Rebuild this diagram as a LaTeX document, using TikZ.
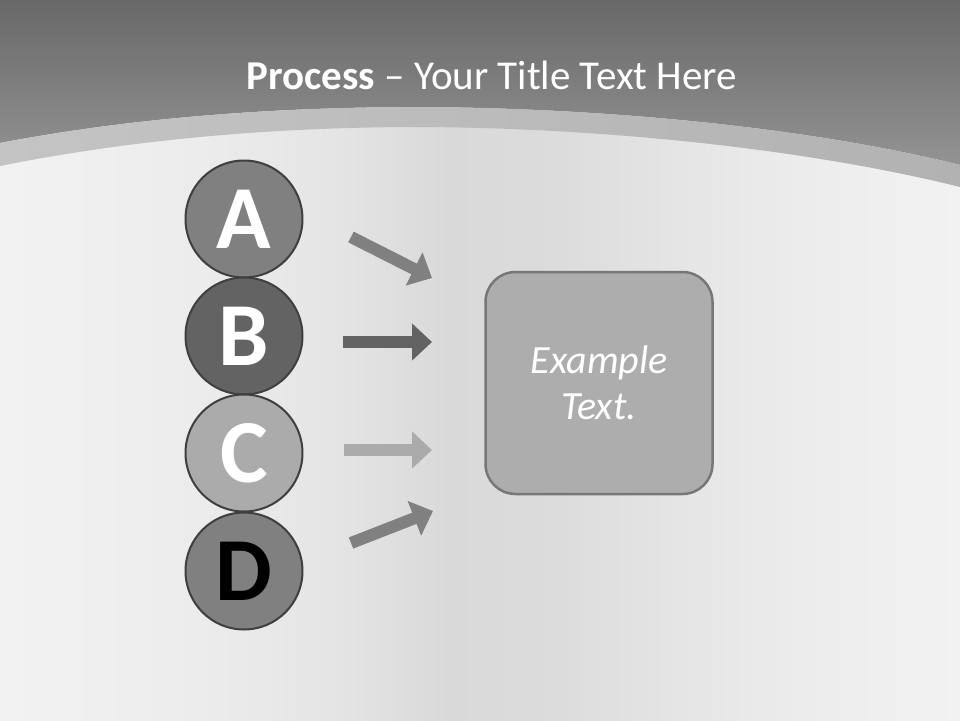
\documentclass[tikz,border=0pt]{standalone}
\usepackage{fontspec}
\setmainfont{Carlito}
\usetikzlibrary{arrows.meta}
\definecolor{lowA}{HTML}{F2F2F2}
\definecolor{lowB}{HTML}{ECECEC}
\definecolor{lowC}{HTML}{E5E5E5}
\definecolor{lowD}{HTML}{D9D9D9}
\definecolor{lowE}{HTML}{DCDCDC}
\definecolor{topA}{HTML}{686868}
\definecolor{topB}{HTML}{939393}
\definecolor{bandL}{HTML}{C4C4C4}
\definecolor{bandM}{HTML}{C8C8C8}
\definecolor{bandR}{HTML}{B2B2B2}
\definecolor{cA}{HTML}{808080}
\definecolor{cB}{HTML}{636363}
\definecolor{cC}{HTML}{ABABAB}
\definecolor{cD}{HTML}{808080}
\definecolor{ringc}{HTML}{3F3F3F}
\definecolor{boxF}{HTML}{ADADAD}
\definecolor{boxB}{HTML}{777777}
\pgfdeclarehorizontalshading{lowerbg}{100bp}{color(0bp)=(lowA); color(25bp)=(lowA); color(35.4bp)=(lowB); color(42.2bp)=(lowC); color(48.4bp)=(lowD); color(54.2bp)=(lowE); color(60.4bp)=(lowC); color(66.7bp)=(lowB); color(75bp)=(lowA); color(100bp)=(lowA)}
\tikzset{
  circ/.style={circle, minimum size=117pt, inner sep=0pt, draw=ringc, line width=2pt,
    font=\fontsize{90}{90}\selectfont\bfseries, text=white},
  arr/.style={line width=12pt, -{Triangle[length=20pt,width=36pt]}},
  exbox/.style={draw=boxB, fill=boxF, line width=2.5pt, rounded corners=30pt,
    minimum width=227pt, minimum height=222pt, align=center, text=white,
    font=\fontsize{40}{46}\selectfont\itshape},
  titletext/.style={text=white, font=\fontsize{41}{48}\selectfont}
}
\begin{document}
\begin{tikzpicture}[x=1pt,y=-1pt]
\useasboundingbox (0,0) rectangle (960,720);
\shade[shading=lowerbg] (0,0) rectangle (960,720);
\shade[top color=topA, bottom color=topB] (0,0) -- (960,0) -- (960,165) .. controls (820,130) and (620,108) .. (420,107) .. controls (260,107) and (120,120) .. (0,143) -- cycle;
\shade[left color=bandL, middle color=bandM, right color=bandR] (0,143) .. controls (120,120) and (260,107) .. (420,107) .. controls (620,108) and (820,130) .. (960,165) -- (960,187) .. controls (820,152) and (620,128) .. (420,127) .. controls (260,127) and (120,142) .. (0,166) -- cycle;
\node[titletext] (title) at (492,75) {\textbf{Process} – Your Title Text Here};
\node[circ, fill=cA] (A) at (244,219) {A};
\node[circ, fill=cB] (B) at (244,336) {B};
\node[circ, fill=cC] (C) at (244,453) {C};
\node[circ, fill=cD, text=black] (D) at (244,571) {D};
\node[exbox] (box) at (599,383) {Example\\Text.};
\coordinate (a1) at (351,237);
\coordinate (a2) at (432,278);
\coordinate (b1) at (343,342);
\coordinate (b2) at (432,342);
\coordinate (c1) at (344,450);
\coordinate (c2) at (432,450);
\coordinate (d1) at (351,543);
\coordinate (d2) at (433,511);
\draw[arr, draw=cA, fill=cA] (a1) -- (a2);
\draw[arr, draw=cB, fill=cB] (b1) -- (b2);
\draw[arr, draw=cC, fill=cC] (c1) -- (c2);
\draw[arr, draw=cD, fill=cD] (d1) -- (d2);
\end{tikzpicture}
\end{document}
